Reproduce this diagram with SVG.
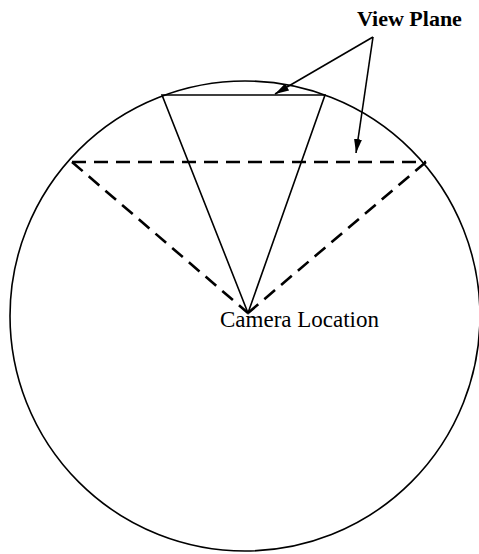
<svg xmlns="http://www.w3.org/2000/svg" width="479" height="554" viewBox="0 0 479 554">
<style>
.s{fill:none;stroke:#000;stroke-width:1.6}
.d{fill:none;stroke:#000;stroke-width:2.6;stroke-dasharray:14 8}
.t{font-family:"Liberation Serif","Times New Roman",serif;fill:#000}
</style>
<defs>
<marker id="ah" viewBox="0 0 14 8" refX="14" refY="4" markerWidth="14" markerHeight="8" markerUnits="userSpaceOnUse" orient="auto">
<path d="M0,0 L14,4 L0,8 Z" fill="#000"/>
</marker>
</defs>
<g id="sphere"><circle class="s" cx="245" cy="316" r="235"/></g>
<g id="connectors">
<path class="s" d="M162,95 L325,95 L248,313 Z"/>
<path class="d" d="M72,162 L426,162"/>
<path class="d" d="M72,162 L248,313"/>
<path class="d" d="M426,162 L248,313"/>
<line class="s" x1="373" y1="37" x2="275" y2="94" marker-end="url(#ah)"/>
<line class="s" x1="373" y1="37" x2="356" y2="153" marker-end="url(#ah)"/>
</g>
<g id="view-plane"><text class="t" x="357" y="26" font-size="22" font-weight="bold">View Plane</text></g>
<g id="camera-location"><text class="t" x="220" y="327" font-size="23">Camera Location</text></g>
</svg>
